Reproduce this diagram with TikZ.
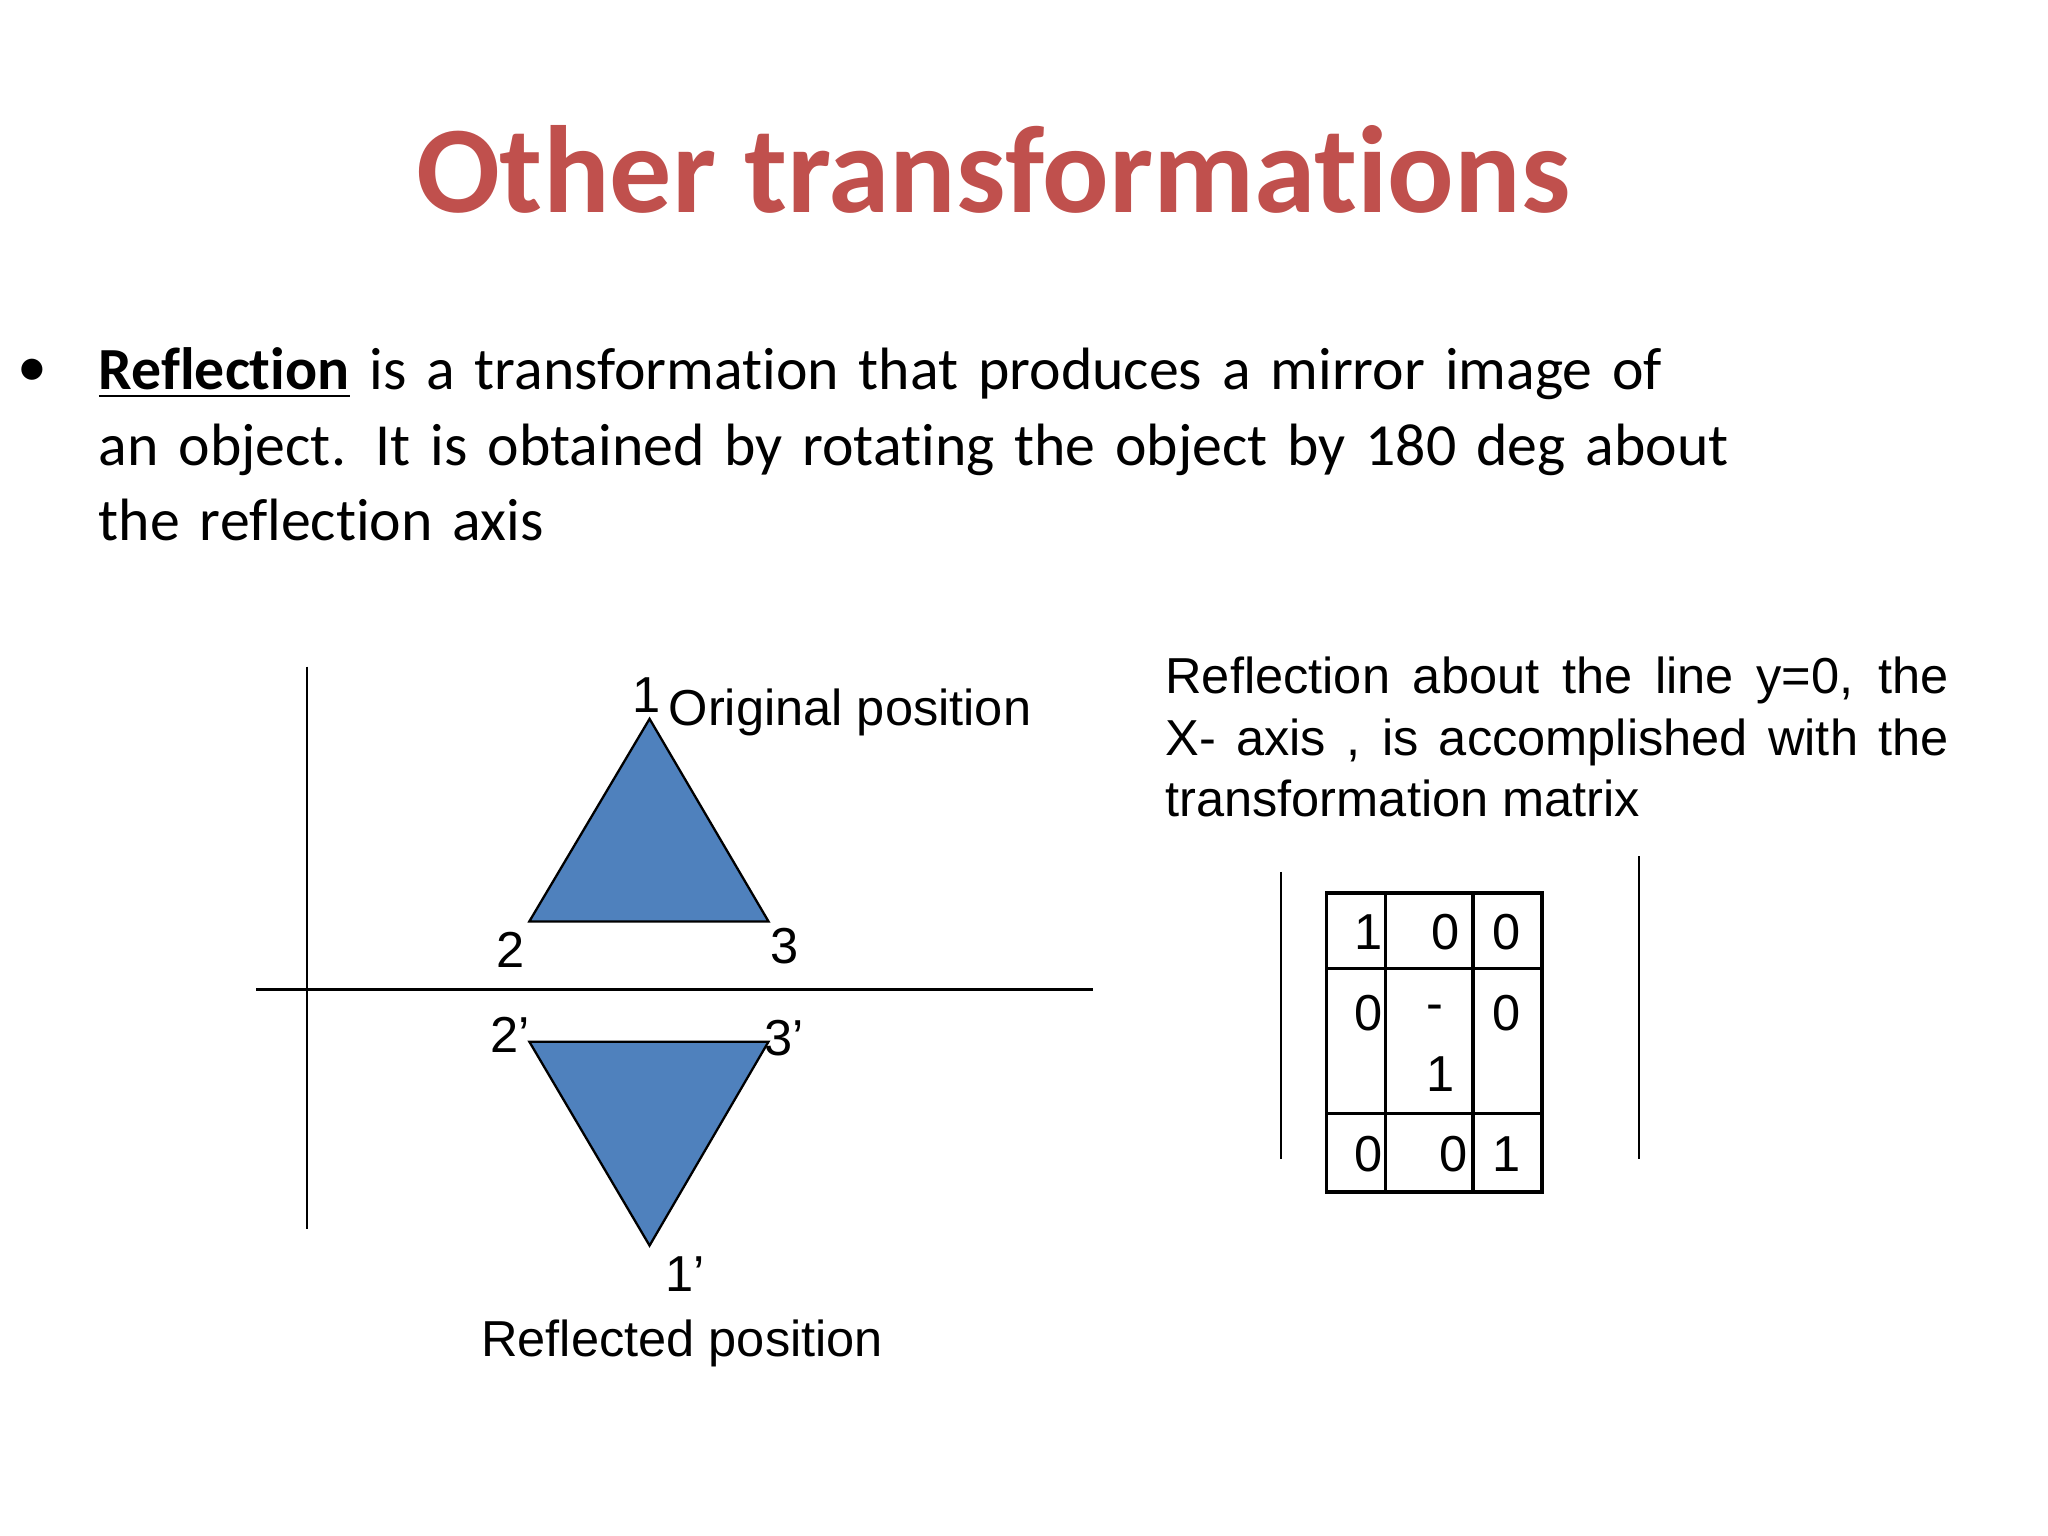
\documentclass[tikz,border=0pt]{standalone}
\usepackage{fontspec}
\setmainfont{Carlito}[Ligatures=NoCommon]
\newfontfamily\arialf{Liberation Sans}
\definecolor{titlered}{RGB}{192,80,77}
\definecolor{trifill}{RGB}{79,129,189}
\begin{document}
\begin{tikzpicture}[x=0.01cm,y=-0.01cm,
  lbl/.style={font=\arialf\fontsize{11}{13}\selectfont,inner sep=0},
  body/.style={font=\fontsize{13}{16.5}\selectfont,inner sep=0},
  tri/.style={draw=black,fill=trifill,line width=0.5pt},
  axis/.style={draw=black,line width=0.5pt}]
\useasboundingbox (0,0) rectangle (1567,1175);
\node[font=\bfseries\fontsize{27}{32}\selectfont,text=titlered] (title) at (760,130) {Other transformations};
\node[body] (bul) at (25,285) {\textbullet};
\node[body,anchor=north west,align=left,text width=14cm] (txt) at (75,265)
 {\textbf{\underline{Reflection}} is a transformation that produces a mirror image of\\
 an object. It is obtained by rotating the object by 180 deg about\\
 the reflection axis};
% axes
\coordinate (vt) at (235,510); \coordinate (vb) at (235,940);
\coordinate (hl) at (196,757); \coordinate (hr) at (836,757);
\draw[axis] (vt) -- (vb); \draw[axis] (hl) -- (hr);
% triangles
\coordinate (p1) at (497,550); \coordinate (p2) at (405,705); \coordinate (p3) at (588,705);
\coordinate (q1) at (497,953); \coordinate (q2) at (405,797); \coordinate (q3) at (588,797);
\draw[tri] (p1) -- (p2) -- (p3) -- cycle;
\draw[tri] (q1) -- (q2) -- (q3) -- cycle;
\node[lbl] (l1) at (495,532) {1};
\node[lbl,anchor=west] (orig) at (511,545) {Original position};
\node[lbl] (l2) at (391,727) {2};
\node[lbl] (l3) at (600,724) {3};
\node[lbl] (l2p) at (390,792) {2’};
\node[lbl] (l3p) at (600,794) {3’};
\node[lbl] (l1p) at (524,975) {1’};
\node[lbl] (refl) at (522,1028) {Reflected position};
% right text
\node[lbl,anchor=north west,text width=5.99cm,align=justify,font=\arialf\fontsize{11}{13.4}\selectfont] (rt) at (891,502)
 {Reflection about the line y=0, the\linebreak X- axis , is accomplished with the\linebreak transformation matrix};
% matrix bars
\coordinate (b1t) at (980,667); \coordinate (b1b) at (980,887);
\coordinate (b2t) at (1254,655); \coordinate (b2b) at (1254,887);
\draw[axis] (b1t) -- (b1b); \draw[axis] (b2t) -- (b2b);
% table
\draw[line width=0.8pt] (1015,683) rectangle (1180,912);
\draw[line width=0.8pt] (1060,683) -- (1060,912) (1127,683) -- (1127,912)
  (1015,741) -- (1180,741) (1015,852) -- (1180,852);
\node[lbl] (a11) at (1047,713) {1};
\node[lbl] (a12) at (1106,713) {0};
\node[lbl] (a13) at (1153,713) {0};
\node[lbl] (a21) at (1047,775) {0};
\node[lbl] (a22) at (1098,775) {-};
\node[lbl] (a22b) at (1102,822) {1};
\node[lbl] (a23) at (1153,775) {0};
\node[lbl] (a31) at (1047,883) {0};
\node[lbl] (a32) at (1112,883) {0};
\node[lbl] (a33) at (1153,883) {1};
\end{tikzpicture}
\end{document}
